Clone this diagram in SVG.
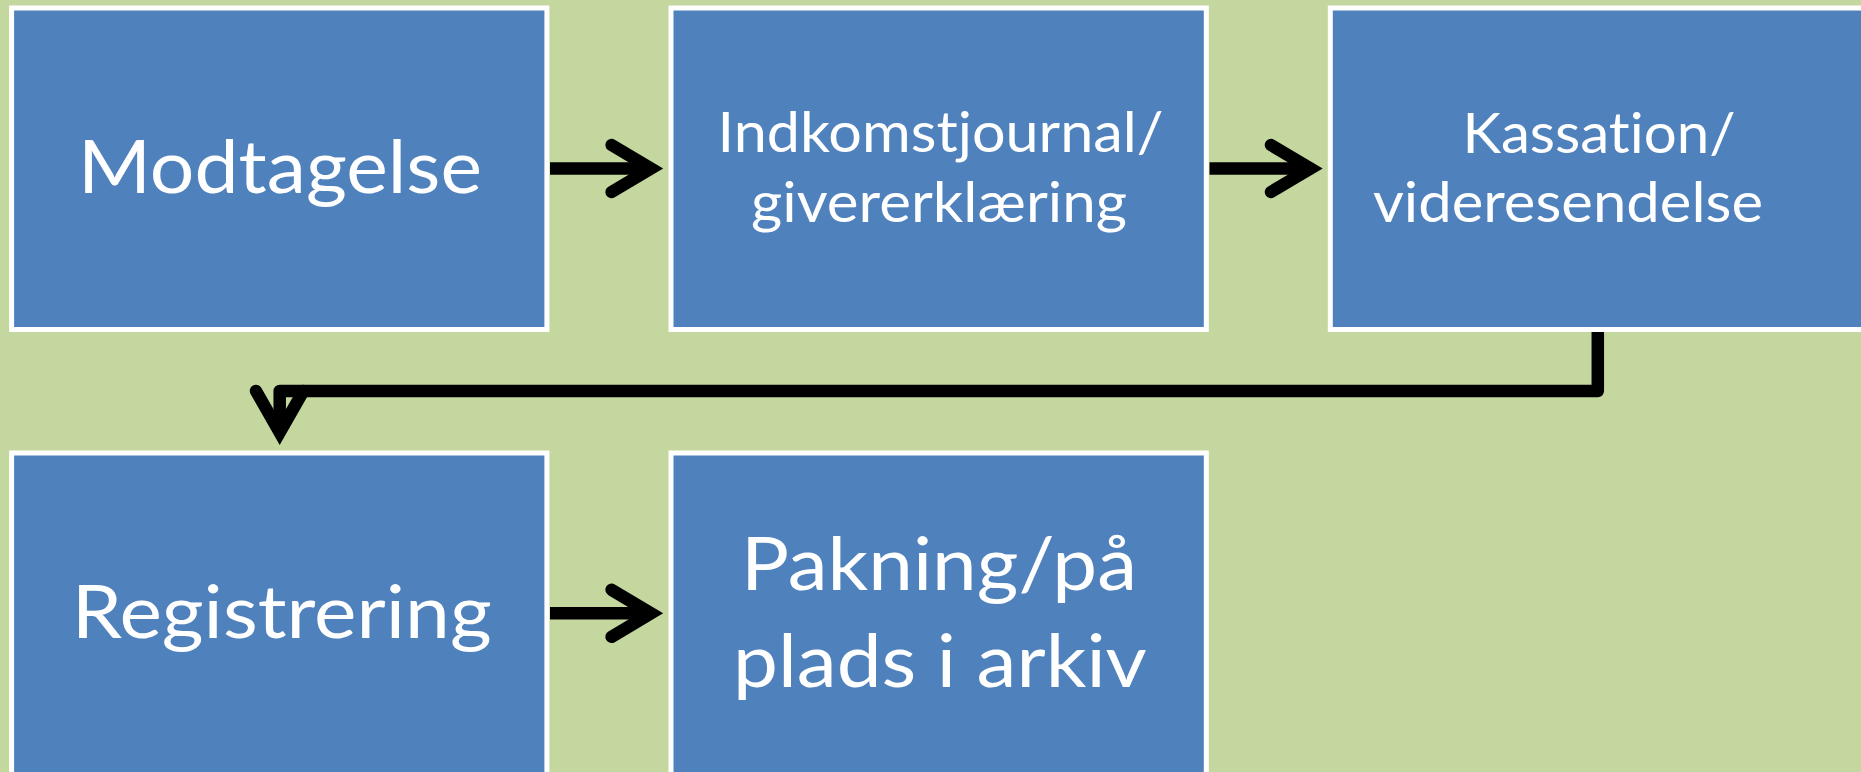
<svg xmlns="http://www.w3.org/2000/svg" width="1861" height="772" viewBox="0 0 1861 772">
  <defs>
    <style>
      .box { fill: #4F81BD; stroke: #FFFFFF; stroke-width: 5; }
      .lbl { fill: #FFFFFF; font-family: Lato, "Open Sans", "Liberation Sans", sans-serif; text-anchor: middle; font-variant-ligatures: none; font-feature-settings: "liga" 0, "clig" 0; }
      .big { font-size: 74px; }
      .small { font-size: 56px; }
      .conn { fill: none; stroke: #000000; stroke-width: 12.5; }
      .head { fill: none; stroke: #000000; stroke-width: 12.5; stroke-linecap: round; stroke-linejoin: miter; stroke-miterlimit: 10; }
    </style>
  </defs>
  <rect x="0" y="0" width="1861" height="772" fill="#C4D79F"/>

  <g id="node-modtagelse">
    <rect class="box" x="11.6" y="8" width="535.3" height="321.5"/>
    <text class="lbl big" x="280" y="192.7" textLength="404" lengthAdjust="spacingAndGlyphs">Modtagelse</text>
  </g>

  <g id="node-indkomstjournal">
    <rect class="box" x="671" y="8" width="535.3" height="321.5"/>
    <text class="lbl small" x="940.5" y="151.7" textLength="446" lengthAdjust="spacingAndGlyphs">Indkomstjournal/</text>
    <text class="lbl small" x="939" y="222" textLength="376" lengthAdjust="spacingAndGlyphs">givererklæring</text>
  </g>

  <g id="node-kassation">
    <rect class="box" x="1330.3" y="8" width="535.3" height="321.5"/>
    <text class="lbl small" x="1599" y="152.7" textLength="273" lengthAdjust="spacingAndGlyphs">Kassation/</text>
    <text class="lbl small" x="1568" y="221.7" textLength="390" lengthAdjust="spacingAndGlyphs">videresendelse</text>
  </g>

  <g id="node-registrering">
    <rect class="box" x="11.6" y="453" width="535.3" height="330"/>
    <text class="lbl big" x="281.7" y="638.3" textLength="420" lengthAdjust="spacingAndGlyphs">Registrering</text>
  </g>

  <g id="node-pakning">
    <rect class="box" x="671" y="453" width="535.3" height="330"/>
    <text class="lbl big" x="939" y="590" textLength="396" lengthAdjust="spacingAndGlyphs">Pakning/på</text>
    <text class="lbl big" x="940" y="686.7" textLength="414" lengthAdjust="spacingAndGlyphs">plads i arkiv</text>
  </g>

  <g id="connectors">
    <line class="conn" x1="550" y1="168.5" x2="651" y2="168.5"/>
    <path class="head" d="M611.6,145 L651,168.5 L611.6,192"/>

    <line class="conn" x1="1209.5" y1="168.5" x2="1310.5" y2="168.5"/>
    <path class="head" d="M1271,145 L1310.5,168.5 L1271,192"/>

    <path class="conn" stroke-linejoin="round" d="M1597.8,332 V391 H279.7 V432"/>
    <path class="head" d="M256,391 L279.7,432.5 L303.4,391"/>

    <line class="conn" x1="550" y1="613.3" x2="651" y2="613.3"/>
    <path class="head" d="M611.6,589.8 L651,613.3 L611.6,636.8"/>
  </g>
</svg>
